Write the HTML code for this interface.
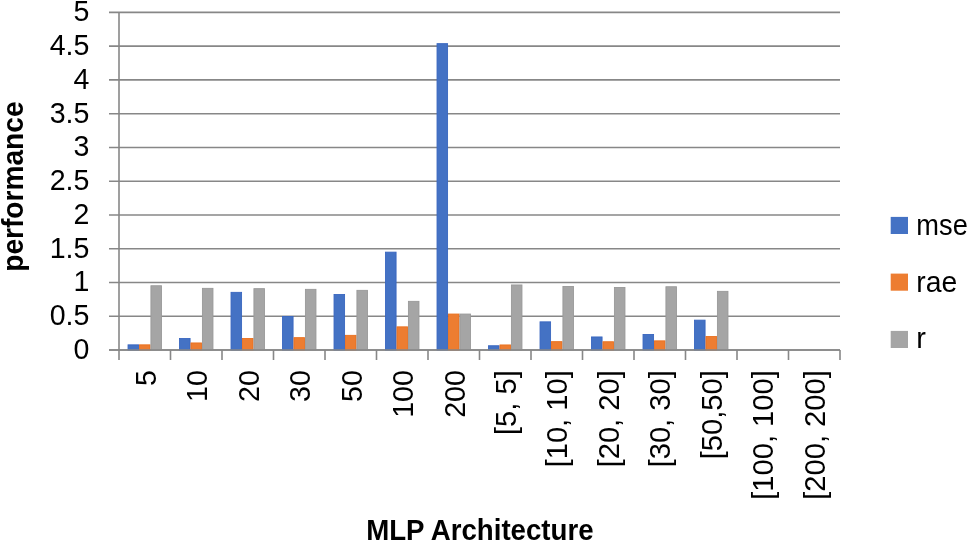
<!DOCTYPE html><html><head><meta charset="utf-8"><style>html,body{margin:0;padding:0;background:#fff;overflow:hidden;}svg{display:block;}text{font-family:"Liberation Sans",sans-serif;}.t{filter:grayscale(1)}</style></head><body>
<svg width="969" height="542" viewBox="0 0 969 542">
<rect width="969" height="542" fill="#fff"/>
<line x1="109" y1="12.40" x2="840" y2="12.40" stroke="#878787" stroke-width="1.6"/>
<line x1="109" y1="46.16" x2="840" y2="46.16" stroke="#878787" stroke-width="1.6"/>
<line x1="109" y1="79.92" x2="840" y2="79.92" stroke="#878787" stroke-width="1.6"/>
<line x1="109" y1="113.68" x2="840" y2="113.68" stroke="#878787" stroke-width="1.6"/>
<line x1="109" y1="147.44" x2="840" y2="147.44" stroke="#878787" stroke-width="1.6"/>
<line x1="109" y1="181.20" x2="840" y2="181.20" stroke="#878787" stroke-width="1.6"/>
<line x1="109" y1="214.96" x2="840" y2="214.96" stroke="#878787" stroke-width="1.6"/>
<line x1="109" y1="248.72" x2="840" y2="248.72" stroke="#878787" stroke-width="1.6"/>
<line x1="109" y1="282.48" x2="840" y2="282.48" stroke="#878787" stroke-width="1.6"/>
<line x1="109" y1="316.24" x2="840" y2="316.24" stroke="#878787" stroke-width="1.6"/>
<line x1="109" y1="350.00" x2="840" y2="350.00" stroke="#878787" stroke-width="1.6"/>
<rect x="128.03" y="344.85" width="10.54" height="5.15" fill="#4472C4" stroke="#3966C0" stroke-width="0.9"/>
<rect x="139.48" y="344.85" width="10.54" height="5.15" fill="#ED7D31" stroke="#E9701F" stroke-width="0.9"/>
<rect x="150.92" y="285.75" width="10.54" height="64.25" fill="#A5A5A5" stroke="#999999" stroke-width="0.9"/>
<rect x="179.53" y="338.55" width="10.54" height="11.45" fill="#4472C4" stroke="#3966C0" stroke-width="0.9"/>
<rect x="190.98" y="342.95" width="10.54" height="7.05" fill="#ED7D31" stroke="#E9701F" stroke-width="0.9"/>
<rect x="202.42" y="288.35" width="10.54" height="61.65" fill="#A5A5A5" stroke="#999999" stroke-width="0.9"/>
<rect x="231.03" y="292.35" width="10.54" height="57.65" fill="#4472C4" stroke="#3966C0" stroke-width="0.9"/>
<rect x="242.48" y="338.55" width="10.54" height="11.45" fill="#ED7D31" stroke="#E9701F" stroke-width="0.9"/>
<rect x="253.92" y="288.65" width="10.54" height="61.35" fill="#A5A5A5" stroke="#999999" stroke-width="0.9"/>
<rect x="282.53" y="316.45" width="10.54" height="33.55" fill="#4472C4" stroke="#3966C0" stroke-width="0.9"/>
<rect x="293.98" y="337.65" width="10.54" height="12.35" fill="#ED7D31" stroke="#E9701F" stroke-width="0.9"/>
<rect x="305.42" y="289.35" width="10.54" height="60.65" fill="#A5A5A5" stroke="#999999" stroke-width="0.9"/>
<rect x="334.03" y="294.55" width="10.54" height="55.45" fill="#4472C4" stroke="#3966C0" stroke-width="0.9"/>
<rect x="345.48" y="335.35" width="10.54" height="14.65" fill="#ED7D31" stroke="#E9701F" stroke-width="0.9"/>
<rect x="356.92" y="290.35" width="10.54" height="59.65" fill="#A5A5A5" stroke="#999999" stroke-width="0.9"/>
<rect x="385.53" y="252.15" width="10.54" height="97.85" fill="#4472C4" stroke="#3966C0" stroke-width="0.9"/>
<rect x="396.98" y="326.85" width="10.54" height="23.15" fill="#ED7D31" stroke="#E9701F" stroke-width="0.9"/>
<rect x="408.42" y="301.35" width="10.54" height="48.65" fill="#A5A5A5" stroke="#999999" stroke-width="0.9"/>
<rect x="437.03" y="43.65" width="10.54" height="306.35" fill="#4472C4" stroke="#3966C0" stroke-width="0.9"/>
<rect x="448.48" y="314.05" width="10.54" height="35.95" fill="#ED7D31" stroke="#E9701F" stroke-width="0.9"/>
<rect x="459.92" y="314.05" width="10.54" height="35.95" fill="#A5A5A5" stroke="#999999" stroke-width="0.9"/>
<rect x="488.53" y="345.75" width="10.54" height="4.25" fill="#4472C4" stroke="#3966C0" stroke-width="0.9"/>
<rect x="499.98" y="344.95" width="10.54" height="5.05" fill="#ED7D31" stroke="#E9701F" stroke-width="0.9"/>
<rect x="511.42" y="284.95" width="10.54" height="65.05" fill="#A5A5A5" stroke="#999999" stroke-width="0.9"/>
<rect x="540.03" y="321.85" width="10.54" height="28.15" fill="#4472C4" stroke="#3966C0" stroke-width="0.9"/>
<rect x="551.48" y="341.65" width="10.54" height="8.35" fill="#ED7D31" stroke="#E9701F" stroke-width="0.9"/>
<rect x="562.92" y="286.45" width="10.54" height="63.55" fill="#A5A5A5" stroke="#999999" stroke-width="0.9"/>
<rect x="591.53" y="336.95" width="10.54" height="13.05" fill="#4472C4" stroke="#3966C0" stroke-width="0.9"/>
<rect x="602.98" y="341.75" width="10.54" height="8.25" fill="#ED7D31" stroke="#E9701F" stroke-width="0.9"/>
<rect x="614.42" y="287.45" width="10.54" height="62.55" fill="#A5A5A5" stroke="#999999" stroke-width="0.9"/>
<rect x="643.03" y="334.45" width="10.54" height="15.55" fill="#4472C4" stroke="#3966C0" stroke-width="0.9"/>
<rect x="654.48" y="340.85" width="10.54" height="9.15" fill="#ED7D31" stroke="#E9701F" stroke-width="0.9"/>
<rect x="665.92" y="286.75" width="10.54" height="63.25" fill="#A5A5A5" stroke="#999999" stroke-width="0.9"/>
<rect x="694.53" y="320.15" width="10.54" height="29.85" fill="#4472C4" stroke="#3966C0" stroke-width="0.9"/>
<rect x="705.98" y="336.55" width="10.54" height="13.45" fill="#ED7D31" stroke="#E9701F" stroke-width="0.9"/>
<rect x="717.42" y="291.35" width="10.54" height="58.65" fill="#A5A5A5" stroke="#999999" stroke-width="0.9"/>
<line x1="119" y1="12.40" x2="119" y2="350.00" stroke="#878787" stroke-width="1.6"/>
<line x1="109" y1="350.00" x2="840" y2="350.00" stroke="#878787" stroke-width="1.6"/>
<line x1="119.00" y1="350.00" x2="119.00" y2="360" stroke="#878787" stroke-width="1.6"/>
<line x1="170.50" y1="350.00" x2="170.50" y2="360" stroke="#878787" stroke-width="1.6"/>
<line x1="222.00" y1="350.00" x2="222.00" y2="360" stroke="#878787" stroke-width="1.6"/>
<line x1="273.50" y1="350.00" x2="273.50" y2="360" stroke="#878787" stroke-width="1.6"/>
<line x1="325.00" y1="350.00" x2="325.00" y2="360" stroke="#878787" stroke-width="1.6"/>
<line x1="376.50" y1="350.00" x2="376.50" y2="360" stroke="#878787" stroke-width="1.6"/>
<line x1="428.00" y1="350.00" x2="428.00" y2="360" stroke="#878787" stroke-width="1.6"/>
<line x1="479.50" y1="350.00" x2="479.50" y2="360" stroke="#878787" stroke-width="1.6"/>
<line x1="531.00" y1="350.00" x2="531.00" y2="360" stroke="#878787" stroke-width="1.6"/>
<line x1="582.50" y1="350.00" x2="582.50" y2="360" stroke="#878787" stroke-width="1.6"/>
<line x1="634.00" y1="350.00" x2="634.00" y2="360" stroke="#878787" stroke-width="1.6"/>
<line x1="685.50" y1="350.00" x2="685.50" y2="360" stroke="#878787" stroke-width="1.6"/>
<line x1="737.00" y1="350.00" x2="737.00" y2="360" stroke="#878787" stroke-width="1.6"/>
<line x1="788.50" y1="350.00" x2="788.50" y2="360" stroke="#878787" stroke-width="1.6"/>
<line x1="840.00" y1="350.00" x2="840.00" y2="360" stroke="#878787" stroke-width="1.6"/>
<text class="t" transform="translate(89.4,21.40) scale(0.965,1)" font-size="29.6" text-anchor="end" fill="#000">5</text>
<text class="t" transform="translate(89.4,55.16) scale(0.965,1)" font-size="29.6" text-anchor="end" fill="#000">4.5</text>
<text class="t" transform="translate(89.4,88.92) scale(0.965,1)" font-size="29.6" text-anchor="end" fill="#000">4</text>
<text class="t" transform="translate(89.4,122.68) scale(0.965,1)" font-size="29.6" text-anchor="end" fill="#000">3.5</text>
<text class="t" transform="translate(89.4,156.44) scale(0.965,1)" font-size="29.6" text-anchor="end" fill="#000">3</text>
<text class="t" transform="translate(89.4,190.20) scale(0.965,1)" font-size="29.6" text-anchor="end" fill="#000">2.5</text>
<text class="t" transform="translate(89.4,223.96) scale(0.965,1)" font-size="29.6" text-anchor="end" fill="#000">2</text>
<text class="t" transform="translate(89.4,257.72) scale(0.965,1)" font-size="29.6" text-anchor="end" fill="#000">1.5</text>
<text class="t" transform="translate(89.4,291.48) scale(0.965,1)" font-size="29.6" text-anchor="end" fill="#000">1</text>
<text class="t" transform="translate(89.4,325.24) scale(0.965,1)" font-size="29.6" text-anchor="end" fill="#000">0.5</text>
<text class="t" transform="translate(89.4,359.00) scale(0.965,1)" font-size="29.6" text-anchor="end" fill="#000">0</text>
<text class="t" transform="translate(155.95,370.2) rotate(-90) scale(0.965,1)" font-size="29.6" text-anchor="end" fill="#000">5</text>
<text class="t" transform="translate(207.45,370.2) rotate(-90) scale(0.965,1)" font-size="29.6" text-anchor="end" fill="#000">10</text>
<text class="t" transform="translate(258.95,370.2) rotate(-90) scale(0.965,1)" font-size="29.6" text-anchor="end" fill="#000">20</text>
<text class="t" transform="translate(310.45,370.2) rotate(-90) scale(0.965,1)" font-size="29.6" text-anchor="end" fill="#000">30</text>
<text class="t" transform="translate(361.95,370.2) rotate(-90) scale(0.965,1)" font-size="29.6" text-anchor="end" fill="#000">50</text>
<text class="t" transform="translate(413.45,370.2) rotate(-90) scale(0.965,1)" font-size="29.6" text-anchor="end" fill="#000">100</text>
<text class="t" transform="translate(464.95,370.2) rotate(-90) scale(0.965,1)" font-size="29.6" text-anchor="end" fill="#000">200</text>
<text class="t" transform="translate(515.65,370.2) rotate(-90) scale(0.984,1)" font-size="29.6" text-anchor="end" fill="#000">[5, 5]</text>
<text class="t" transform="translate(567.15,370.2) rotate(-90) scale(0.984,1)" font-size="29.6" text-anchor="end" fill="#000">[10, 10]</text>
<text class="t" transform="translate(618.65,370.2) rotate(-90) scale(0.984,1)" font-size="29.6" text-anchor="end" fill="#000">[20, 20]</text>
<text class="t" transform="translate(670.15,370.2) rotate(-90) scale(0.984,1)" font-size="29.6" text-anchor="end" fill="#000">[30, 30]</text>
<text class="t" transform="translate(721.65,370.2) rotate(-90) scale(0.984,1)" font-size="29.6" text-anchor="end" fill="#000">[50,50]</text>
<text class="t" transform="translate(773.15,370.2) rotate(-90) scale(0.984,1)" font-size="29.6" text-anchor="end" fill="#000">[100, 100]</text>
<text class="t" transform="translate(824.65,370.2) rotate(-90) scale(0.984,1)" font-size="29.6" text-anchor="end" fill="#000">[200, 200]</text>
<text class="t" transform="translate(23.2,186.6) rotate(-90)" font-size="30" font-weight="bold" text-anchor="middle" textLength="170.3" lengthAdjust="spacingAndGlyphs">performance</text>
<text class="t" x="479.9" y="539.7" font-size="30" font-weight="bold" text-anchor="middle" textLength="227.4" lengthAdjust="spacingAndGlyphs">MLP Architecture</text>
<rect x="890.7" y="216.90" width="17.3" height="17.1" fill="#4472C4"/>
<text class="t" x="916.3" y="234.60" font-size="29" textLength="51.5" lengthAdjust="spacingAndGlyphs" fill="#000">mse</text>
<rect x="890.7" y="273.60" width="17.3" height="17.1" fill="#ED7D31"/>
<text class="t" x="916.3" y="291.60" font-size="29" textLength="41.0" lengthAdjust="spacingAndGlyphs" fill="#000">rae</text>
<rect x="890.7" y="330.90" width="17.3" height="17.1" fill="#A5A5A5"/>
<text class="t" x="916.3" y="348.00" font-size="29" fill="#000">r</text>
</svg></body></html>
